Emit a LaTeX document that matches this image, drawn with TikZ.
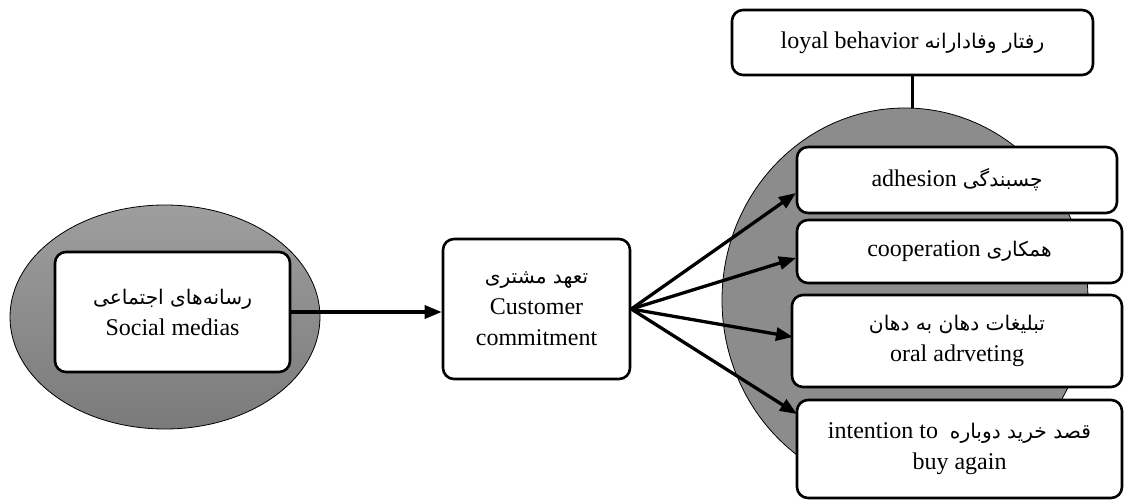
\documentclass[tikz,border=0pt]{standalone}
\usepackage{fontspec}
\setmainfont{Liberation Serif}
\newfontfamily\fa[Script=Arabic,Scale=0.84]{DejaVu Sans}
\TeXXeTstate=1
\usetikzlibrary{shapes.geometric,arrows.meta}
\newcommand\fatext[1]{{\fa\beginR #1\endR}}

\begin{document}
\begin{tikzpicture}[x=1pt,y=-1pt,
  font=\fontsize{24}{31}\selectfont,
  box/.style={draw, line width=2.6pt, rounded corners=11pt, fill=white,
    align=center, inner sep=0pt},
  blob/.style={ellipse, draw, line width=0.8pt, inner sep=0pt},
  arr/.style={line width=3.3pt, -{Triangle[length=17pt,width=13pt]}}]

\useasboundingbox (0,0) rectangle (1124,500);
\fill[white] (0,0) rectangle (1124,500);

% left group: social media inside a shaded ellipse
\node[blob, minimum width=310pt, minimum height=224pt,
  top color=black!38, bottom color=black!52]
  (socblob) at (165,317) {};
\node[box, minimum width=235pt, minimum height=120pt] (soc) at (172.5,312)
  {\fatext{رسانه‌های اجتماعی}\\Social medias};

% customer commitment
\node[box, minimum width=187pt, minimum height=140pt] (cust) at (536.5,309)
  {\fatext{تعهد مشتری}\\Customer\\commitment};

% right group: loyal behaviour and its dimensions
\node[blob, minimum width=366pt, minimum height=384pt, fill=black!45]
  (loyblob) at (905,300) {};
\node[box, minimum width=361pt, minimum height=65pt] (loyal) at (912.5,42.5)
  {loyal behavior \fatext{رفتار وفادارانه}};
\draw[line width=3pt] (loyal.south) -- (loyal.south |- loyblob.north);

\node[box, minimum width=320pt, minimum height=66pt] (adh) at (957,180)
  {adhesion \fatext{چسبندگی}};
\node[box, minimum width=325pt, minimum height=63pt] (coop) at (959.5,251.5)
  {cooperation \fatext{همکاری}};
\node[box, minimum width=330pt, minimum height=92pt] (oral) at (957,341)
  {\fatext{تبلیغات دهان به دهان}\\oral adrveting};
\node[box, minimum width=325pt, minimum height=98pt] (int) at (959.5,449)
  {intention to\ \ \fatext{قصد خرید دوباره}\\buy again};

% arrow heads land on the left sides of the dimension boxes
\coordinate (tA) at (796,193);
\coordinate (tC) at (796,258);
\coordinate (tO) at (793,337);
\coordinate (tI) at (797,414);

\draw[arr] (soc.east) -- (soc.east -| cust.west);
\draw[arr] (cust.east) -- (tA);
\draw[arr] (cust.east) -- (tC);
\draw[arr] (cust.east) -- (tO);
\draw[arr] (cust.east) -- (tI);
\end{tikzpicture}
\end{document}
